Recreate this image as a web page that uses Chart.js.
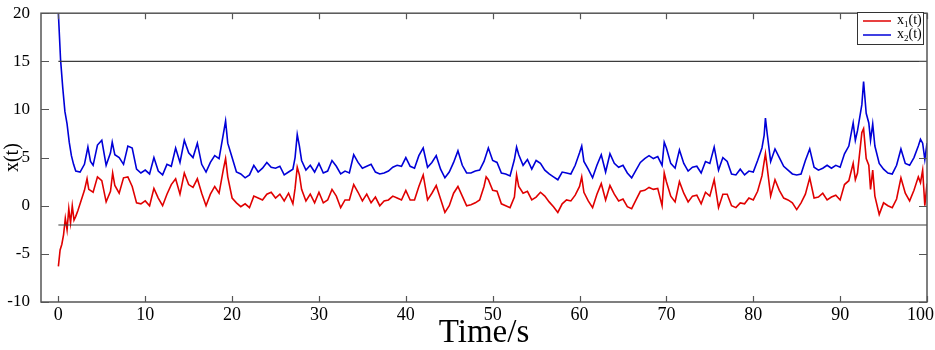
<!DOCTYPE html>
<html><head><meta charset="utf-8">
<script src="https://cdn.jsdelivr.net/npm/chart.js@4.4.0/dist/chart.umd.min.js"></script>
<style>html,body{margin:0;padding:0;background:#fff;}</style>
</head><body>
<canvas id="c" width="935" height="350" style="width:935px;height:350px;display:block"></canvas>
<script>
// ---- data ----
const time1 = [0,0.2,0.4,0.6,0.8,1.0,1.2,1.4,1.6,1.8,2.0,2.25,2.5,2.75,3.0,3.3,3.5,4.0,4.5,5.0,5.5,6.0,6.25,6.5,7.0,7.5,8.0,8.5,9.0,9.5,10,10.5,11,11.5,12,12.5,13,13.5,14,14.5,15,15.5,16,16.5,17,17.5,18,18.5,19,19.25,19.5,20,20.5,21,21.5,22,22.5,23,23.5,24,24.5,25,25.5,26,26.5,27,27.25,27.5,27.75,28,28.5,29,29.5,30,30.5,31,31.5,32,32.5,33,33.5,34,34.5,35,35.5,36,36.5,37,37.5,38,38.5,39,39.5,40,40.5,41,41.5,42,42.5,43,43.5,44,44.5,45,45.5,46,46.5,47,47.5,48,48.5,49,49.25,49.5,50,50.5,51,51.5,52,52.5,52.75,53,53.5,54,54.5,55,55.5,56,56.5,57,57.5,58,58.5,59,59.5,60,60.25,60.5,61,61.5,62,62.5,63,63.5,64,64.5,65,65.5,66,66.5,67,67.5,68,68.5,69,69.5,69.75,70,70.5,71,71.5,72,72.5,73,73.5,74,74.5,75,75.5,76,76.5,77,77.5,78,78.5,79,79.5,80,80.5,81,81.4,81.6,82,82.5,83,83.5,84,84.5,85,85.5,86,86.5,87,87.5,88,88.5,89,89.5,90,90.5,91,91.5,91.75,92,92.5,92.7,93,93.3,93.5,93.75,94,94.5,95,95.5,96,96.5,97,97.5,98,98.5,99,99.25,99.5,99.75,100];
const x1 = [-6.3,-4.6,-4.0,-3.0,-1.3,-2.5,-0.3,-1.8,0.0,-1.5,-1.1,-0.5,0.2,0.9,1.6,2.8,1.7,1.4,3.0,2.6,0.4,1.5,3.4,2.1,1.3,2.9,3.0,2.0,0.3,0.2,0.5,0.0,1.8,0.8,0.0,1.2,2.2,2.8,1.2,3.4,2.2,1.9,2.8,1.3,0.0,1.2,2.0,1.3,3.8,4.9,3.0,0.8,0.3,-0.1,0.2,-0.2,1.0,0.8,0.6,1.2,1.4,0.8,1.2,0.5,1.3,0.2,1.8,4.0,3.2,1.7,0.5,1.2,0.3,1.4,0.3,0.6,1.7,1.0,-0.2,0.6,0.6,2.2,1.4,0.5,1.2,0.3,0.9,0.0,0.5,0.6,1.0,0.8,0.6,1.6,0.6,0.6,2.0,3.2,0.6,1.3,2.1,0.7,-0.7,0.0,1.3,2.0,1.0,0.0,0.1,0.3,0.6,2.0,3.0,2.7,1.6,1.5,0.2,0.0,-0.2,0.9,3.2,2.0,1.3,1.5,0.6,0.9,1.4,1.0,0.4,-0.1,-0.7,0.2,0.6,0.5,1.1,2.0,3.0,1.4,0.5,-0.2,1.2,2.3,0.6,2.1,1.2,0.5,0.7,-0.1,-0.3,0.6,1.5,1.6,1.9,1.7,1.8,0.0,3.4,2.5,1.0,0.4,2.5,1.3,0.4,1.0,1.1,0.2,1.4,1.0,2.7,-0.2,1.2,1.2,0.0,-0.2,0.3,0.2,0.8,0.6,1.5,3.1,5.4,4.0,1.0,2.7,1.6,0.8,0.6,0.3,-0.4,0.3,1.2,2.9,0.8,0.9,1.3,0.6,0.9,1.1,0.6,2.2,2.6,4.4,2.7,3.4,7.6,8.0,4.9,4.2,1.7,3.7,1.0,-0.9,0.3,0.0,-0.2,0.7,2.9,1.3,0.5,1.6,3.0,2.4,3.7,0.0,2.3];
const time2 = [0,0.25,0.5,0.75,1.0,1.25,1.5,1.75,2.0,2.5,3.0,3.4,3.7,4.0,4.5,5.0,5.5,6.0,6.2,6.5,7.0,7.5,8.0,8.5,9.0,9.5,10,10.5,11,11.5,12,12.5,13,13.5,14,14.5,15,15.5,16,16.5,17,17.5,18,18.5,19,19.25,19.5,20,20.5,21,21.5,22,22.5,23,23.5,24,24.5,25,25.5,26,26.5,27,27.25,27.5,27.75,28,28.5,29,29.5,30,30.5,31,31.5,32,32.5,33,33.5,34,34.5,35,35.5,36,36.5,37,37.5,38,38.5,39,39.5,40,40.5,41,41.5,42,42.5,43,43.5,44,44.5,45,45.5,46,46.5,47,47.5,48,48.5,49,49.5,50,50.5,51,51.5,52,52.5,52.75,53,53.5,54,54.5,55,55.5,56,56.5,57,57.5,58,58.5,59,59.5,60,60.25,60.5,61,61.5,62,62.5,63,63.5,64,64.5,65,65.5,66,66.5,67,67.5,68,68.5,69,69.5,69.75,70,70.5,71,71.5,72,72.5,73,73.5,74,74.5,75,75.5,76,76.5,77,77.5,78,78.5,79,79.5,80,80.5,81,81.25,81.4,81.6,82,82.5,83,83.5,84,84.5,85,85.5,86,86.5,87,87.5,88,88.5,89,89.5,90,90.5,91,91.5,91.75,92,92.5,92.7,93,93.3,93.5,93.75,94,94.5,95,95.5,96,96.5,97,97.5,98,98.5,99,99.25,99.5,99.75,100];
const x2 = [20,15.2,12.3,9.8,8.5,6.6,5.2,4.3,3.6,3.5,4.3,6.1,4.6,4.2,6.3,6.8,4.2,5.5,6.6,5.3,5.0,4.3,6.2,6.0,3.8,3.4,3.7,3.3,5.0,3.6,3.2,4.3,4.1,6.0,4.5,6.8,5.5,5.0,6.5,4.3,3.5,4.5,5.2,4.9,7.5,8.8,6.5,5.0,3.5,3.3,2.9,3.2,4.2,3.5,3.9,4.5,4.0,3.9,4.1,3.2,3.5,3.8,5.0,7.4,6.2,4.7,3.7,4.2,3.5,4.4,3.4,3.6,4.7,4.1,3.3,3.6,3.4,5.3,4.5,3.9,4.1,4.3,3.5,3.3,3.4,3.6,4.0,4.2,4.1,5.0,4.1,3.9,5.2,6.0,4.0,4.5,5.2,3.8,2.9,3.5,4.5,5.7,4.2,3.4,3.4,3.6,3.7,4.6,6.0,4.7,4.5,3.4,3.3,3.1,4.8,6.1,5.3,4.2,4.8,3.8,4.7,4.4,3.7,3.3,3.0,2.7,3.5,3.4,3.3,4.2,5.5,6.2,4.6,3.8,2.9,4.2,5.3,3.5,5.4,4.4,4.0,4.2,3.4,2.9,3.7,4.5,4.9,5.2,4.9,5.1,4.2,6.6,6.0,4.4,3.9,5.8,4.4,3.6,4.0,4.1,3.4,4.6,4.4,6.1,3.7,5.0,4.6,3.3,3.2,3.8,3.2,3.6,3.5,4.7,6.0,7.3,9.1,7.5,4.6,5.9,5.0,4.1,3.7,3.3,3.2,3.3,4.7,5.9,4.0,3.7,3.9,4.2,3.9,4.2,4.0,5.4,6.2,8.6,6.8,7.8,10.5,12.9,9.6,8.6,6.8,8.5,6.2,4.4,3.8,3.4,3.3,4.2,5.9,4.4,4.2,5.0,6.2,6.9,6.5,4.8,6.5];
const boundTimes = [0, 100];
const upperBound = [15, 15];
const lowerBound = [-2, -2];
const xTickValues = [0,10,20,30,40,50,60,70,80,90,100];
const yTickValues = [-10,-5,0,5,10,15,20];
const seriesNames = ['x1(t)', 'x2(t)'];
const subscripts = ['1', '2'];
const axisTitles = ['Time/s', 'x(t)'];

const pts = (ts, vs) => ts.map((t, i) => ({x: t, y: vs[i]}));
const SERIF = "'Liberation Serif', 'DejaVu Serif', serif";
const RED = '#e00000', BLUE = '#0000d8';

const framePlugin = {
  id: 'frame',
  afterDatasetsDraw(chart) {
    const {ctx, chartArea: a, scales: {x, y}} = chart;
    const W = chart.width;
    ctx.save();
    ctx.strokeStyle = '#555';
    ctx.lineWidth = 1.5;
    ctx.strokeRect(a.left, a.top, a.right - a.left, a.bottom - a.top);
    ctx.lineWidth = 1.2;
    ctx.beginPath();
    xTickValues.forEach(v => {
      const px = Math.round(x.getPixelForValue(v)) + 0.5;
      ctx.moveTo(px, a.bottom); ctx.lineTo(px, a.bottom - 6);
      ctx.moveTo(px, a.top); ctx.lineTo(px, a.top + 6);
    });
    yTickValues.forEach(v => {
      const py = Math.round(y.getPixelForValue(v)) + 0.5;
      ctx.moveTo(a.left, py); ctx.lineTo(a.left + 8, py);
      ctx.moveTo(a.right, py); ctx.lineTo(a.right - 8, py);
    });
    ctx.stroke();
    // x tick labels (kept inside the canvas like the reference)
    ctx.fillStyle = '#000';
    ctx.font = '18px ' + SERIF;
    ctx.textBaseline = 'alphabetic';
    xTickValues.forEach(v => {
      const label = String(v);
      const w = ctx.measureText(label).width;
      let cx = x.getPixelForValue(v);
      if (cx + w / 2 > W - 1) cx = W - 1 - w / 2;
      ctx.textAlign = 'center';
      ctx.fillText(label, cx, a.bottom + 18);
    });
    // legend
    const bx = 857, by = 12, bw = 66, bh = 32;
    ctx.fillStyle = '#fff';
    ctx.fillRect(bx, by, bw, bh);
    ctx.strokeStyle = '#333';
    ctx.lineWidth = 1;
    ctx.strokeRect(bx + 0.5, by + 0.5, bw, bh);
    const colors = [RED, BLUE];
    const rows = [by + 9, by + 23];
    rows.forEach((ry, i) => {
      ctx.strokeStyle = colors[i];
      ctx.lineWidth = 1.5;
      ctx.beginPath(); ctx.moveTo(bx + 6, ry); ctx.lineTo(bx + 34, ry); ctx.stroke();
      ctx.fillStyle = '#000';
      ctx.textBaseline = 'alphabetic';
      ctx.textAlign = 'left';
      let tx = bx + 40;
      ctx.font = '14px ' + SERIF;
      ctx.fillText('x', tx, ry + 3); tx += ctx.measureText('x').width;
      ctx.font = '9px ' + SERIF;
      ctx.fillText(subscripts[i], tx, ry + 6); tx += ctx.measureText(subscripts[i]).width;
      ctx.font = '14px ' + SERIF;
      ctx.fillText('(t)', tx, ry + 3);
    });
    ctx.restore();
  }
};

new Chart(document.getElementById('c'), {
  type: 'line',
  data: {
    datasets: [
      {label: 'upper', data: pts(boundTimes, upperBound), borderColor: '#3c3c3c', borderWidth: 1.2, pointRadius: 0},
      {label: 'lower', data: pts(boundTimes, lowerBound), borderColor: '#3c3c3c', borderWidth: 1.2, pointRadius: 0},
      {label: seriesNames[1], data: pts(time2, x2), borderColor: BLUE, borderWidth: 1.6, pointRadius: 0, tension: 0},
      {label: seriesNames[0], data: pts(time1, x1), borderColor: RED, borderWidth: 1.6, pointRadius: 0, tension: 0}
    ]
  },
  options: {
    responsive: false,
    animation: false,
    devicePixelRatio: 1,
    layout: {padding: {left: 0, right: 8, top: 8, bottom: 0}},
    plugins: {legend: {display: false}, tooltip: {enabled: false}},
    scales: {
      x: {
        type: 'linear', min: -2, max: 100,
        afterBuildTicks: s => { s.ticks = xTickValues.map(v => ({value: v})); },
        afterFit: s => { s.height = 48; },
        grid: {display: false}, border: {display: false},
        ticks: {display: false},
        title: {display: true, text: axisTitles[0], color: '#000', font: {family: SERIF, size: 33, lineHeight: 1.0}, padding: {top: 0, bottom: 0}}
      },
      y: {
        type: 'linear', min: -10, max: 20,
        afterBuildTicks: s => { s.ticks = yTickValues.map(v => ({value: v})); },
        afterFit: s => { s.width = 41; },
        grid: {display: false}, border: {display: false},
        ticks: {font: {family: SERIF, size: 17}, color: '#000', padding: 3, autoSkip: false},
        title: {display: true, text: axisTitles[1], color: '#000', font: {family: SERIF, size: 20}, padding: {top: 1, bottom: 0}}
      }
    }
  },
  plugins: [framePlugin]
});
</script>
</body></html>
